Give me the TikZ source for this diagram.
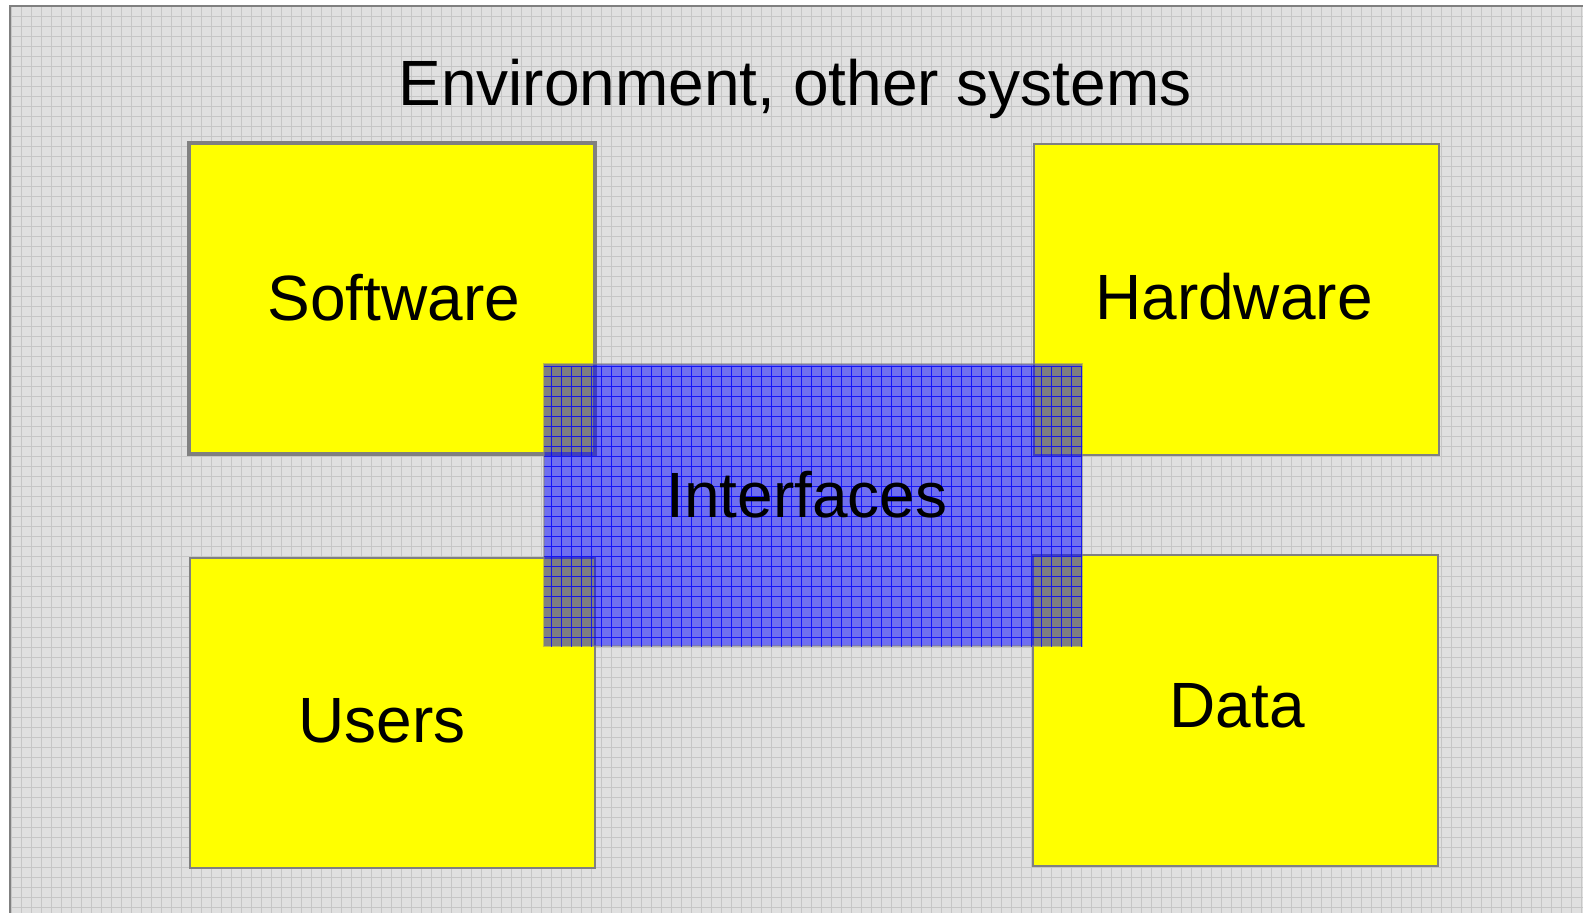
\documentclass[tikz,border=0pt]{standalone}
\usepackage{fontspec}
\setmainfont{Liberation Sans}
\definecolor{paper}{HTML}{E0E0E0}
\definecolor{gridgray}{HTML}{C6C6C6}
\definecolor{edgegray}{HTML}{808080}
\definecolor{partyellow}{HTML}{FFFF00}
\definecolor{ifaceblue}{HTML}{0000FF}

\tikzset{every picture/.style={line width=0.75pt}}
\tikzset{
  bigtext/.style={font=\fontsize{32}{38}\selectfont, anchor=base, inner sep=0pt},
  partbox/.style={draw=edgegray, fill=partyellow, line width=1pt},
  ifacebox/.style={fill=ifaceblue, fill opacity=0.5, draw=edgegray, draw opacity=0.5, line width=1pt},
  papergrid/.style={draw=gridgray, line width=0.5pt},
  ifacegrid/.style={draw=ifaceblue, line width=0.5pt, opacity=0.8}
}

\begin{document}
\begin{tikzpicture}[x=0.5pt,y=0.5pt,yscale=-1,xscale=1]
	\useasboundingbox (0,0) rectangle (1583,913);

	%Background with grid
	\fill[paper] (10,6) rectangle (1600,930);
	\begin{scope}
		\clip (10,6) rectangle (1600,930);
		\draw[papergrid, shift={(1,7)}] (0,0) grid[step=10] (1600,930);
	\end{scope}
	\draw[edgegray, line width=1pt] (1600,6) -- (10,6) -- (10,930);

	%Yellow parts
	\draw[partbox, line width=2.25pt] (189,143) rectangle (595,454);
	\draw[partbox] (1034,144) rectangle (1439,455);
	\draw[partbox] (190,558) rectangle (595,868);
	\draw[partbox] (1033,555) rectangle (1438,866);

	%Interfaces, see-through
	\draw[ifacebox] (544,364) rectangle (1082,646);
	\begin{scope}
		\clip (544,364) rectangle (1082,646);
		\draw[ifacegrid, shift={(1,7)}] (540,360) grid[step=10] (1090,650);
	\end{scope}

	% Text Nodes
	\node[bigtext] (env) at (795,106) {Environment, other systems};
	\node[bigtext] (software) at (394,321) {Software};
	\node[bigtext] (hardware) at (1234,320) {Hardware};
	\node[bigtext] (interfaces) at (807,518) {Interfaces};
	\node[bigtext] (users) at (382,742) {Users};
	\node[bigtext] (data) at (1237,727) {Data};

\end{tikzpicture}
\end{document}
